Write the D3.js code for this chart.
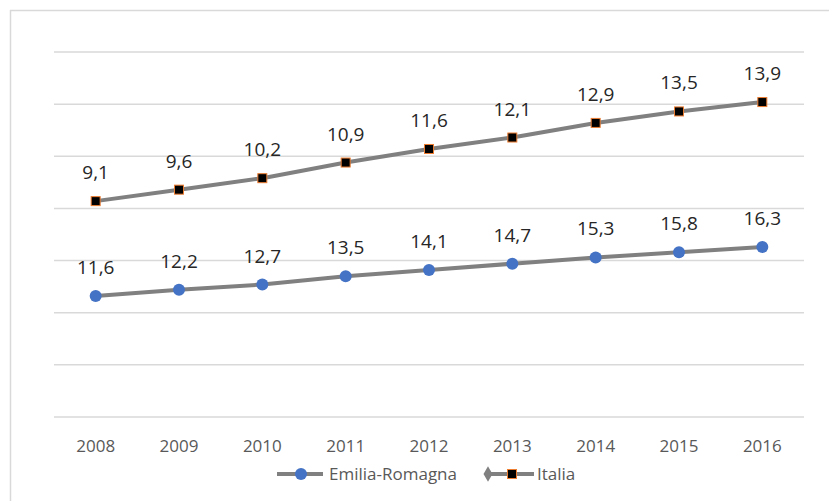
<!DOCTYPE html>
<html><head><meta charset="utf-8">
<script src="https://cdn.jsdelivr.net/npm/d3@7"></script>
<style>html,body{margin:0;padding:0;background:#fff;}svg{display:block;font-family:"Open Sans","Noto Sans",sans-serif;}</style>
</head><body>
<svg id="c" width="829" height="501"></svg>
<script>
const years = ["2008","2009","2010","2011","2012","2013","2014","2015","2016"];
const emilia = [11.6,12.2,12.7,13.5,14.1,14.7,15.3,15.8,16.3];
const italia = [9.1,9.6,10.2,10.9,11.6,12.1,12.9,13.5,13.9];
const yTicks = [0,5,10,15,20,25,30,35];

const svg = d3.select("#c");
// frame
svg.append("line").attr("x1",10).attr("x2",829).attr("y1",10.5).attr("y2",10.5).attr("stroke","#d9d9d9").attr("stroke-width",1.5);
svg.append("line").attr("x1",10.5).attr("x2",10.5).attr("y1",10).attr("y2",501).attr("stroke","#d9d9d9").attr("stroke-width",1.5);

const x = d3.scaleBand().domain(years).range([54,804]);
const y = d3.scaleLinear().domain([0,35]).range([417,52]);
const cx = d => x(d) + x.bandwidth()/2;

// gridlines
svg.append("g").selectAll("line").data(yTicks).join("line")
  .attr("x1",54).attr("x2",804).attr("y1",d=>y(d)).attr("y2",d=>y(d))
  .attr("stroke","#d9d9d9").attr("stroke-width",1.5);

// x axis labels
const xa = svg.append("g").attr("transform","translate(0,417)")
  .call(d3.axisBottom(x).tickSize(0));
xa.select(".domain").remove();
xa.selectAll("text").attr("y",35).attr("dy",null).attr("fill","#595959")
  .style("font-size","17px").style("font-family","'Open Sans',sans-serif");

const stacked = italia.map((v,i)=>v+emilia[i]);
const line = d3.line().x((d,i)=>cx(years[i])).y(d=>y(d));
const fmt = v => d3.format(".1f")(v).replace(".",",");

svg.append("path").datum(emilia).attr("d",line).attr("fill","none").attr("stroke","#808080").attr("stroke-width",4);
svg.append("path").datum(stacked).attr("d",line).attr("fill","none").attr("stroke","#808080").attr("stroke-width",4);

svg.append("g").selectAll("circle").data(emilia).join("circle")
  .attr("cx",(d,i)=>cx(years[i])).attr("cy",d=>y(d)).attr("r",6).attr("fill","#4472c4");
svg.append("g").selectAll("rect").data(stacked).join("rect")
  .attr("x",(d,i)=>cx(years[i])-4.5).attr("y",d=>y(d)-4.5).attr("width",9).attr("height",9)
  .attr("fill","#000").attr("stroke","#ed7d31").attr("stroke-width",1);

svg.append("g").selectAll("text").data(emilia).join("text")
  .attr("x",(d,i)=>cx(years[i])).attr("y",d=>y(d)-22).attr("text-anchor","middle")
  .attr("fill","#262626").style("font-size","19px").text(d=>fmt(d));
svg.append("g").selectAll("text").data(italia).join("text")
  .attr("x",(d,i)=>cx(years[i])).attr("y",(d,i)=>y(stacked[i])-22).attr("text-anchor","middle")
  .attr("fill","#262626").style("font-size","19px").text(d=>fmt(d));

// legend
const lg = svg.append("g").attr("transform","translate(0,474)");
lg.append("line").attr("x1",277).attr("x2",323).attr("y1",0).attr("y2",0).attr("stroke","#808080").attr("stroke-width",4);
lg.append("circle").attr("cx",301).attr("cy",0).attr("r",6).attr("fill","#4472c4");
lg.append("text").attr("x",329).attr("y",6).attr("fill","#595959").style("font-size","17px").text("Emilia-Romagna");
lg.append("line").attr("x1",486).attr("x2",534).attr("y1",0).attr("y2",0).attr("stroke","#808080").attr("stroke-width",4);
lg.append("path").attr("d",d3.symbol(d3.symbolDiamond,70)()).attr("transform","translate(488,0)").attr("fill","#808080");
lg.append("rect").attr("x",507.5).attr("y",-4.5).attr("width",9).attr("height",9).attr("fill","#000").attr("stroke","#ed7d31");
lg.append("text").attr("x",537).attr("y",6).attr("fill","#595959").style("font-size","17px").text("Italia");
</script>
</body></html>
